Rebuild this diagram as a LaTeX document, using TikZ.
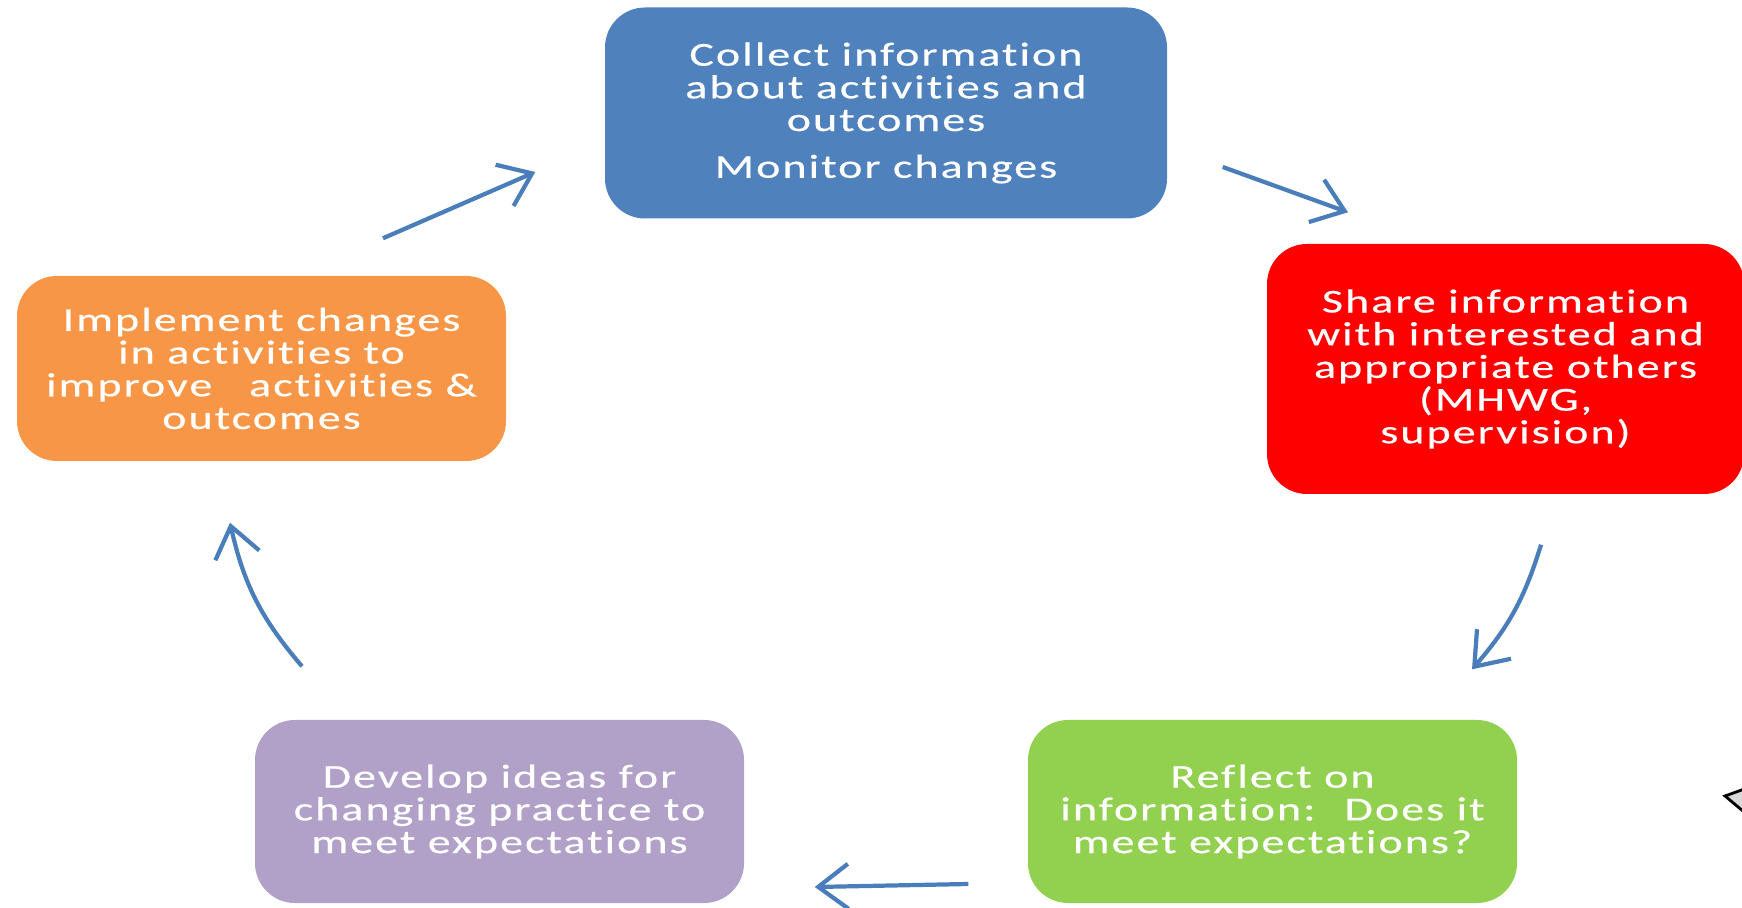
\documentclass[tikz,border=0pt]{standalone}
\usepackage{fontspec}
\setmainfont{Carlito}[FakeStretch=1.38, LetterSpace=6, FakeBold=0.4, Ligatures={NoCommon}]
\usetikzlibrary{arrows.meta}

\definecolor{stepblue}{HTML}{4F81BD}
\definecolor{stepred}{HTML}{FF0000}
\definecolor{steporange}{HTML}{F79646}
\definecolor{steppurple}{HTML}{B1A0C7}
\definecolor{stepgreen}{HTML}{92D050}
\definecolor{cyclearrow}{HTML}{4A7EBB}

\begin{document}
\begin{tikzpicture}[
    box/.style={rectangle, rounded corners=4mm, inner sep=0pt, align=center,
        text=white, font=\fontsize{9.5pt}{9.3pt}\selectfont},
    cycle/.style={-{Straight Barb[length=3mm, width=4.5mm]}, cyclearrow, line width=1.2pt}
]
        \useasboundingbox (0,0) rectangle (17.42,9.07);
        \clip (0,0) rectangle (17.42,9.07);

        % The five steps of the cycle
        \node[box, fill=stepblue, minimum width=5.62cm, minimum height=2.11cm] (collect) at (8.86,7.94)
            {Collect information\\about activities and\\outcomes\\[4pt]Monitor changes};
        \node[box, fill=stepred, minimum width=4.77cm, minimum height=2.5cm] (share) at (15.055,5.38)
            {Share information\\with interested and\\appropriate others\\(MHWG,\\supervision)};
        \node[box, fill=stepgreen, minimum width=4.89cm, minimum height=1.83cm] (reflect) at (12.725,0.955)
            {Reflect on\\information:~ Does it\\meet expectations?};
        \node[box, fill=steppurple, minimum width=4.89cm, minimum height=1.83cm] (develop) at (4.995,0.955)
            {Develop ideas for\\changing practice to\\meet expectations};
        \node[box, fill=steporange, minimum width=4.89cm, minimum height=1.85cm] (implement) at (2.615,5.385)
            {Implement changes\\in activities to\\improve\hspace{1.1em}activities \&\\outcomes};

        % Arrow ends, set off from the boxes
        \coordinate (implement out) at ([xshift=1.215cm, yshift=0.37cm]implement.north);
        \coordinate (collect in) at ([xshift=-0.69cm, yshift=-0.59cm]collect.west);
        \coordinate (collect out) at ([xshift=0.55cm, yshift=-0.54cm]collect.east);
        \coordinate (share in) at ([xshift=-1.575cm, yshift=0.31cm]share.north);
        \coordinate (share out) at ([xshift=0.355cm, yshift=-0.5cm]share.south);
        \coordinate (reflect in) at ([xshift=1.995cm, yshift=0.5cm]reflect.north);
        \coordinate (reflect out) at ([xshift=-0.59cm, yshift=-0.725cm]reflect.west);
        \coordinate (develop in) at ([xshift=0.7cm, yshift=-0.755cm]develop.east);
        \coordinate (develop out) at ([xshift=-1.975cm, yshift=0.53cm]develop.north);
        \coordinate (implement in) at ([xshift=-0.315cm, yshift=-0.61cm]implement.south);

        \draw[cycle] (implement out) -- (collect in);
        \draw[cycle] (collect out) -- (share in);
        \draw[cycle] (share out) to[bend left=12] (reflect in);
        \draw[cycle] (reflect out) -- (develop in);
        \draw[cycle] (develop out) to[bend left=14] (implement in);

        % Shape cut off at the right edge
        \filldraw[fill=black!15, draw=black, line width=0.8pt] (17.25,1.11) -- (17.5,1.2) -- (17.5,0.9) -- cycle;
    \end{tikzpicture}
\end{document}
